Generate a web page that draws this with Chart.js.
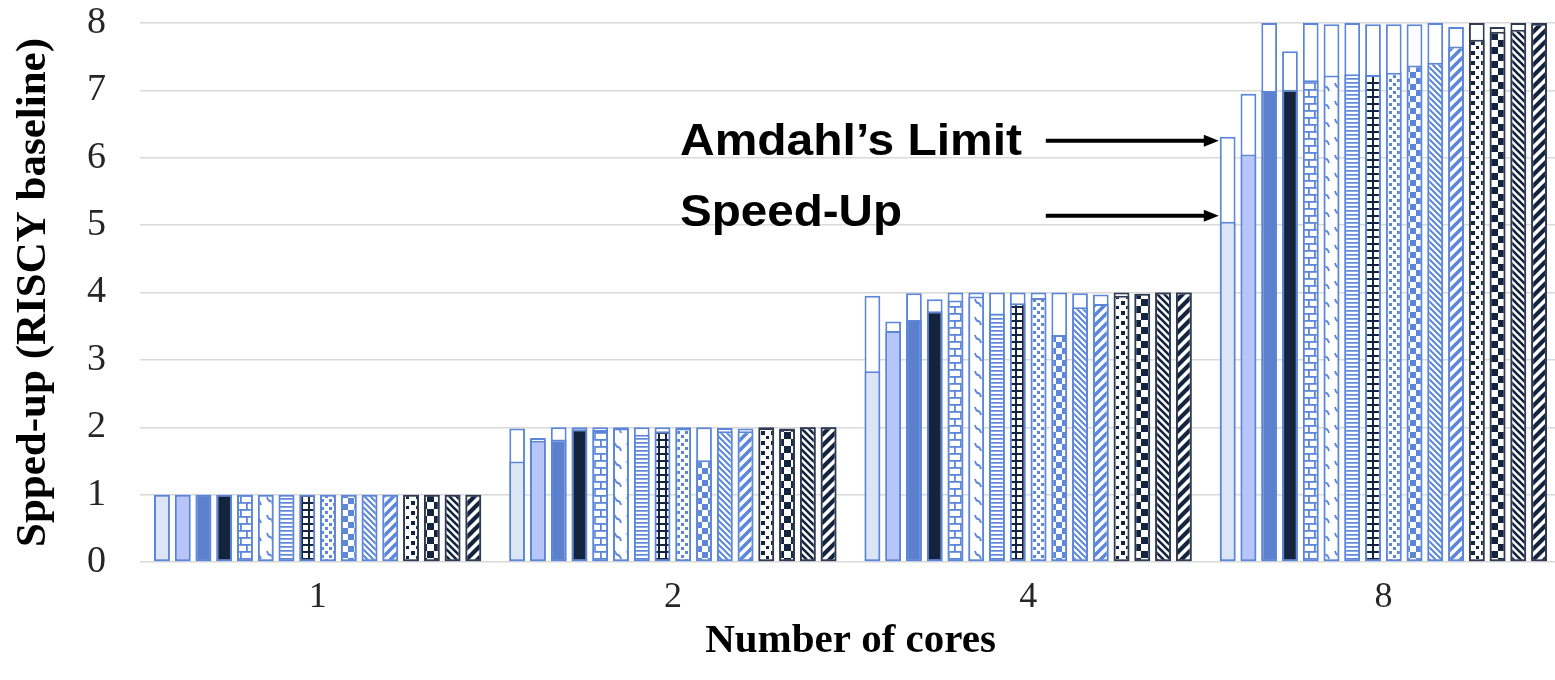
<!DOCTYPE html>
<html>
<head>
<meta charset="utf-8">
<script src="https://cdn.jsdelivr.net/npm/chart.js@4/dist/chart.umd.min.js"></script>
<style>
html,body{margin:0;padding:0;background:#fff;overflow:hidden;}
#wrap{width:1561px;height:680px;overflow:hidden;}
#c{display:block;margin-top:-30px;}
</style>
</head>
<body>
<div id="wrap"><canvas id="c" width="1561" height="710"></canvas></div>
<script>
// ---- data ----
const categories = ['1', '2', '4', '8'];
const seriesNames = ['S1','S2','S3','S4','S5','S6','S7','S8','S9','S10','S11','S12','S13','S14','S15','S16'];
// Speed-up per core count (one value per series)
const speedup1 = [1, 1, 1, 1, 1, 1, 1, 1, 1, 1, 1, 1, 1, 1, 1, 1];
const speedup2 = [1.49, 1.80, 1.82, 1.97, 1.96, 1.98, 1.89, 1.94, 1.98, 1.51, 1.94, 1.94, 1.99, 1.97, 2.0, 2.0];
const speedup4 = [2.83, 3.43, 3.59, 3.72, 3.88, 3.94, 3.69, 3.84, 3.92, 3.37, 3.78, 3.83, 3.95, 3.98, 4.0, 4.0];
const speedup8 = [5.05, 6.05, 6.99, 7.01, 7.15, 7.22, 7.24, 7.23, 7.26, 7.37, 7.41, 7.65, 7.75, 7.87, 7.90, 7.99];
// Amdahl's limit per core count
const limit1 = [1, 1, 1, 1, 1, 1, 1, 1, 1, 1, 1, 1, 1, 1, 1, 1];
const limit2 = [1.98, 1.84, 2.0, 2.0, 2.0, 2.0, 2.0, 2.0, 2.0, 2.0, 1.99, 1.98, 2.0, 1.98, 2.0, 2.0];
const limit4 = [3.95, 3.57, 3.99, 3.90, 4.0, 4.0, 4.0, 4.0, 4.0, 4.0, 3.99, 3.97, 4.0, 3.98, 4.0, 4.0];
const limit8 = [6.31, 6.95, 8.0, 7.58, 8.0, 7.98, 8.0, 7.98, 7.98, 7.98, 8.0, 7.94, 8.0, 7.94, 8.0, 8.0];
const yTicks = [0, 1, 2, 3, 4, 5, 6, 7, 8];

// ---- styles ----
const BLUE = '#5c86d9';
const NAVY = '#14243f';
const NAVYB = '#2e3b52';

function tile(w, h, draw) {
  const cv = document.createElement('canvas');
  cv.width = w; cv.height = h;
  const g = cv.getContext('2d');
  g.fillStyle = '#fff'; g.fillRect(0, 0, w, h);
  draw(g, w, h);
  return document.createElement('canvas').getContext('2d').createPattern(cv, 'repeat');
}
function diagDown(g, s, col, lw) { // "\"
  g.strokeStyle = col; g.lineWidth = lw; g.lineCap = 'square';
  g.beginPath();
  g.moveTo(0, 0); g.lineTo(s, s);
  g.moveTo(-s, 0); g.lineTo(0, s);
  g.moveTo(s, 0); g.lineTo(2 * s, s);
  g.stroke();
}
function diagUp(g, s, col, lw) { // "/"
  g.strokeStyle = col; g.lineWidth = lw; g.lineCap = 'square';
  g.beginPath();
  g.moveTo(0, s); g.lineTo(s, 0);
  g.moveTo(-s, s); g.lineTo(0, 0);
  g.moveTo(s, s); g.lineTo(2 * s, 0);
  g.stroke();
}
const fills = [
  '#dce5f5',
  '#b7c5fb',
  '#5b80cc',
  NAVY,
  tile(12, 14, (g) => { g.fillStyle = BLUE; g.fillRect(0, 0, 12, 1.8); g.fillRect(0, 7, 12, 1.8); g.fillRect(6, 0, 1.8, 7); g.fillRect(0, 7, 1.8, 7); }),
  tile(12, 18, (g) => { g.strokeStyle = BLUE; g.lineWidth = 1.8; g.beginPath(); g.moveTo(3, 5); g.quadraticCurveTo(4, 9, 6, 9); g.quadraticCurveTo(8, 9, 9, 13); g.stroke(); }),
  tile(4, 4, (g) => { g.fillStyle = BLUE; g.fillRect(0, 0, 4, 1.7); }),
  tile(7, 7, (g) => { g.fillStyle = NAVY; g.fillRect(0, 0, 7, 2); g.fillRect(0, 0, 2, 7); }),
  tile(8, 8, (g) => { g.fillStyle = BLUE; g.fillRect(1, 1, 3, 3); g.fillRect(5, 5, 3, 3); }),
  tile(12, 12, (g) => { g.fillStyle = BLUE; g.fillRect(0, 0, 6, 6); g.fillRect(6, 6, 6, 6); }),
  tile(6, 6, (g) => diagDown(g, 6, BLUE, 2)),
  tile(10, 10, (g) => diagUp(g, 10, BLUE, 3.5)),
  tile(10, 10, (g) => { g.fillStyle = NAVY; g.fillRect(1, 1, 4, 4); g.fillRect(6, 6, 3, 3); }),
  tile(14, 14, (g) => { g.fillStyle = NAVY; g.fillRect(0, 0, 7, 7); g.fillRect(7, 7, 7, 7); }),
  tile(7, 7, (g) => diagDown(g, 7, NAVY, 2.6)),
  tile(11, 11, (g) => diagUp(g, 11, NAVY, 4.2)),
];
const borders = seriesNames.map((_, i) => (i >= 12 ? NAVYB : BLUE));

const speedByCat = [speedup1, speedup2, speedup4, speedup8];
const limitByCat = [limit1, limit2, limit4, limit8];

const datasets = [];
seriesNames.forEach((name, i) => {
  datasets.push({
    label: name + ' speed-up',
    data: speedByCat.map(a => a[i]),
    backgroundColor: fills[i],
    borderColor: borders[i],
    borderWidth: 2,
    borderSkipped: false,
    stack: 's' + i,
  });
});
seriesNames.forEach((name, i) => {
  datasets.push({
    label: name + " Amdahl's limit",
    data: limitByCat.map(a => a[i]),
    backgroundColor: '#ffffff',
    borderColor: borders[i],
    borderWidth: 2,
    borderSkipped: false,
    stack: 's' + i,
  });
});

const annot = {
  id: 'annot',
  afterDatasetsDraw(chart) {
    const ctx = chart.ctx;
    const lim = chart.getDatasetMeta(16).data[3];
    const spd = chart.getDatasetMeta(0).data[3];
    const tipX = lim.x - lim.width / 2 - 1;
    const rows = [
      { text: 'Amdahl\u2019s Limit', y: lim.y + 4, base: 14, w: 342 },
      { text: 'Speed-Up', y: spd.y - 6, base: 10, w: 222 },
    ];
    ctx.save();
    rows.forEach(r => {
      const startX = tipX - 173;
      ctx.strokeStyle = '#000'; ctx.fillStyle = '#000';
      ctx.lineWidth = 4;
      ctx.beginPath(); ctx.moveTo(startX, r.y); ctx.lineTo(tipX - 12, r.y); ctx.stroke();
      ctx.beginPath(); ctx.moveTo(tipX, r.y); ctx.lineTo(tipX - 15, r.y - 6); ctx.lineTo(tipX - 15, r.y + 6); ctx.closePath(); ctx.fill();
      ctx.font = 'bold 44px "Liberation Sans", Arial, sans-serif';
      const mw = ctx.measureText(r.text).width;
      const sx = r.w / mw;
      ctx.save();
      ctx.translate(680, r.y + r.base);
      ctx.scale(sx, 1);
      ctx.textAlign = 'left'; ctx.textBaseline = 'alphabetic';
      ctx.fillText(r.text, 0, 0);
      ctx.restore();
    });
    ctx.restore();
  }
};

new Chart(document.getElementById('c'), {
  type: 'bar',
  data: { labels: categories, datasets },
  plugins: [annot],
  options: {
    responsive: false,
    animation: false,
    events: [],
    layout: { padding: { top: 22, left: 0, right: 0, bottom: 0 } },
    datasets: { bar: { categoryPercentage: 0.935, barPercentage: 0.76 } },
    plugins: { legend: { display: false }, tooltip: { enabled: false } },
    scales: {
      x: {
        stacked: true,
        grid: { display: false },
        border: { display: false },
        ticks: {
          padding: 6,
          color: '#262626',
          font: { family: '"Liberation Serif", "Times New Roman", serif', size: 36 },
        },
        title: {
          display: true,
          text: 'Number of cores',
          color: '#000',
          padding: { top: 0, bottom: 14 },
          font: { family: '"Liberation Serif", "Times New Roman", serif', size: 41, weight: 'bold' },
        },
        afterFit(scale) { scale.height = 118; },
      },
      y: {
        stacked: false,
        min: 0,
        max: 8,
        afterBuildTicks(scale) { scale.ticks = yTicks.map(v => ({ value: v })); },
        grid: { color: '#d9d9d9', lineWidth: 1.5, drawTicks: false },
        border: { display: false },
        ticks: {
          padding: 34,
          color: '#262626',
          font: { family: '"Liberation Serif", "Times New Roman", serif', size: 38, lineHeight: 1 },
        },
        title: {
          display: true,
          text: 'Spped-up (RISCY baseline)',
          color: '#000',
          padding: { top: 8, bottom: 0 },
          font: { family: '"Liberation Serif", "Times New Roman", serif', size: 43, weight: 'bold' },
        },
        afterFit(scale) { scale.width = 140; },
      },
    },
  },
});
</script>
</body>
</html>
